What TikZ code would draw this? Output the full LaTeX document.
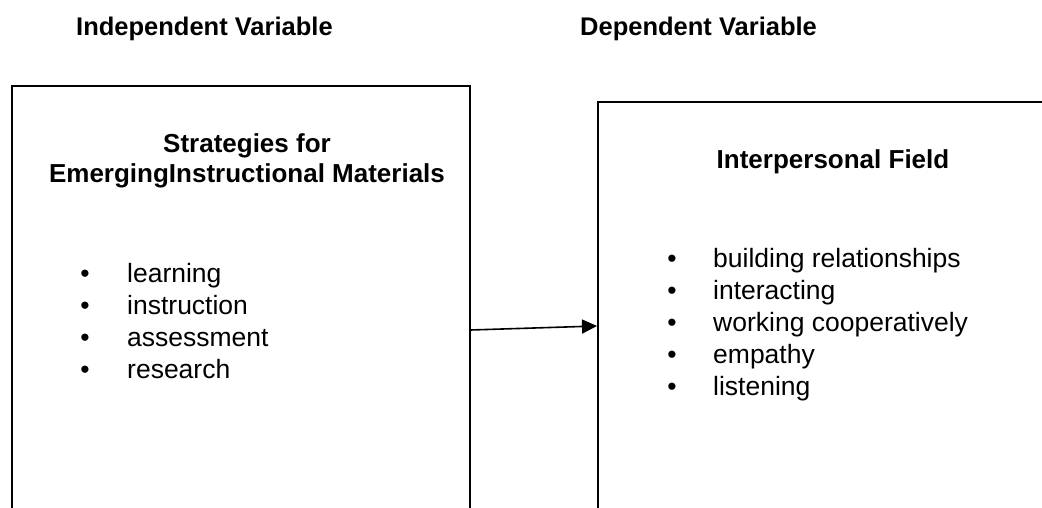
\documentclass[tikz,border=0pt]{standalone}
\usepackage{fontspec}
\setmainfont{Liberation Sans}
\usetikzlibrary{arrows.meta}
\begin{document}
\begin{tikzpicture}[x=1pt,y=-1pt,
  box/.style={draw=black,line width=1.6pt,rectangle,anchor=north west,inner sep=0pt},
  hdr/.style={font=\fontsize{26}{30}\selectfont\bfseries,align=center,inner sep=0pt},
  toplbl/.style={font=\fontsize{25.5}{30}\selectfont\bfseries,inner sep=0pt,anchor=base west},
  bul/.style={font=\fontsize{26.5}{32}\selectfont,inner sep=0pt,anchor=base},
  item/.style={font=\fontsize{26.5}{32}\selectfont,inner sep=0pt,anchor=base west},
  conn/.style={line width=1.6pt,-{Triangle[length=15pt,width=14pt]}}]
\useasboundingbox (0,0) rectangle (1042,508);
\begin{scope}
\clip (0,0) rectangle (1042,508);
\node[box,minimum width=458pt,minimum height=460pt] (lbox) at (11,85) {};
\node[box,minimum width=470pt,minimum height=440pt] (rbox) at (597,101) {};
\end{scope}
\node[toplbl] (iv) at (76,36) {Independent Variable};
\node[toplbl] (dv) at (580,36) {Dependent Variable};
\node[hdr] (lhdr) at (247,161) {Strategies for\\EmergingInstructional Materials};
\node[hdr] (rhdr) at (833,162) {Interpersonal Field};
\foreach \t [count=\i] in {learning,instruction,assessment,research}{
  \node[bul] (lb\i) at (85,{282+32*(\i-1)}) {•};
  \node[item] (li\i) at (127,{282+32*(\i-1)}) {\t};
}
\foreach \t [count=\i] in {building relationships,interacting,working cooperatively,empathy,listening}{
  \node[bul] (rb\i) at (672,{267+32*(\i-1)}) {•};
  \node[item] (ri\i) at (713,{267+32*(\i-1)}) {\t};
}
\draw[conn] ([yshift=-245pt]lbox.north east) -- ([yshift=-225pt]rbox.north west);
\end{tikzpicture}
\end{document}
